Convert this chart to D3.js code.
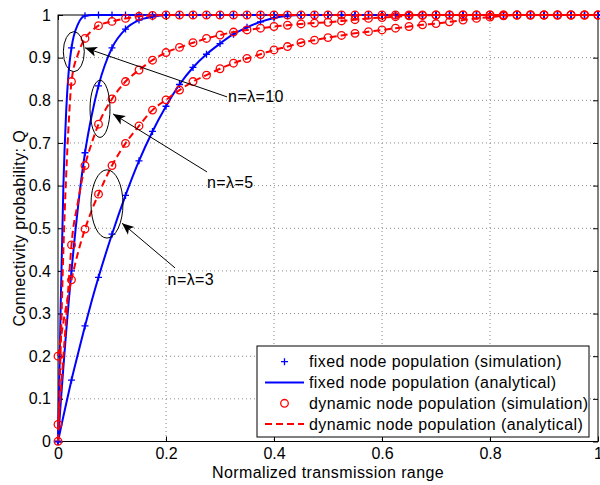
<!DOCTYPE html>
<html>
<head>
<meta charset="utf-8">
<script src="https://cdn.jsdelivr.net/npm/d3@7"></script>
<style>
  body { margin: 0; background: #fff; }
  text { font-family: "Liberation Sans", Arial, Helvetica, sans-serif; }
  .wide { letter-spacing: 0.4px; }
</style>
</head>
<body>
<svg id="chart" width="600" height="485"></svg>
<script>
// ----- data -----
// simulation samples, every 0.025 of the normalized range
const xSim = [0, 0.025, 0.05, 0.075, 0.1, 0.125, 0.15, 0.175, 0.2, 0.225, 0.25, 0.275, 0.3, 0.325,
  0.35, 0.375, 0.4, 0.425, 0.45, 0.475, 0.5, 0.525, 0.55, 0.575, 0.6, 0.625, 0.65, 0.675, 0.7,
  0.725, 0.75, 0.775, 0.8, 0.825, 0.85, 0.875, 0.9, 0.925, 0.95, 0.975, 1];

// fixed node population, n = 3, 5, 10
const fixed3 = [0, 0.144, 0.271, 0.385, 0.486, 0.577, 0.658, 0.727, 0.786, 0.837, 0.877, 0.908, 0.933,
  0.955, 0.971, 0.984, 0.993, 0.998, 1, 1, 1, 1, 1, 1, 1, 1, 1, 1, 1, 1, 1, 1, 1, 1, 1, 1, 1, 1, 1, 1, 1];
const fixed5 = [0, 0.40, 0.677, 0.834, 0.923, 0.967, 0.988, 0.996, 1, 1, 1, 1, 1, 1, 1, 1, 1, 1, 1, 1,
  1, 1, 1, 1, 1, 1, 1, 1, 1, 1, 1, 1, 1, 1, 1, 1, 1, 1, 1, 1, 1];
const fixed10 = [0, 0.923, 0.998, 1, 1, 1, 1, 1, 1, 1, 1, 1, 1, 1, 1, 1, 1, 1, 1, 1, 1, 1, 1, 1, 1,
  1, 1, 1, 1, 1, 1, 1, 1, 1, 1, 1, 1, 1, 1, 1, 1];

// dynamic node population, lambda = 3, 5, 10
const dyn3 = [0.2, 0.379, 0.498, 0.58, 0.647, 0.699, 0.74, 0.777, 0.801, 0.824, 0.844, 0.859, 0.874,
  0.887, 0.898, 0.908, 0.918, 0.926, 0.935, 0.941, 0.947, 0.952, 0.957, 0.961, 0.965, 0.969, 0.973,
  0.977, 0.98, 0.984, 0.988, 0.992, 0.995, 0.998, 1, 1, 1, 1, 1, 1, 1];
const dyn5 = [0.04, 0.461, 0.647, 0.744, 0.803, 0.844, 0.871, 0.894, 0.912, 0.924, 0.935, 0.945, 0.953,
  0.96, 0.965, 0.969, 0.973, 0.976, 0.979, 0.981, 0.983, 0.986, 0.989, 0.992, 0.994, 0.996, 0.998,
  0.999, 1, 1, 1, 1, 1, 1, 1, 1, 1, 1, 1, 1, 1];
const dyn10 = [0.0005, 0.844, 0.945, 0.975, 0.985, 0.992, 0.997, 0.999, 1, 1, 1, 1, 1, 1, 1, 1, 1, 1,
  1, 1, 1, 1, 1, 1, 1, 1, 1, 1, 1, 1, 1, 1, 1, 1, 1, 1, 1, 1, 1, 1, 1];

// analytical curves: same as the samples plus extra points on the steep start
const xHead = [0.0025, 0.005, 0.01, 0.015, 0.02, 0.0375, 0.0625];
const fixed3Head = [0.015, 0.03, 0.059, 0.088, 0.116, 0.208, 0.33];
const fixed5Head = [0.045, 0.09, 0.175, 0.255, 0.33, 0.555, 0.765];
const fixed10Head = [0.15, 0.32, 0.6, 0.77, 0.87, 0.98, 1];
const dyn3Head = [0.22, 0.24, 0.28, 0.316, 0.349, 0.445, 0.542];
const dyn5Head = [0.075, 0.115, 0.2, 0.285, 0.375, 0.565, 0.70];
const dyn10Head = [0.1, 0.22, 0.45, 0.62, 0.75, 0.91, 0.963];

const xTicks = [0, 0.2, 0.4, 0.6, 0.8, 1];
const xTickLabels = ["0", "0.2", "0.4", "0.6", "0.8", "1"];
const yTicks = [0, 0.1, 0.2, 0.3, 0.4, 0.5, 0.6, 0.7, 0.8, 0.9, 1];
const yTickLabels = ["0", "0.1", "0.2", "0.3", "0.4", "0.5", "0.6", "0.7", "0.8", "0.9", "1"];

const legendLabels = [
  "fixed node population (simulation)",
  "fixed node population (analytical)",
  "dynamic node population (simulation)",
  "dynamic node population (analytical)"
];

// annotation ellipses (data units) and their labels
const groups = [
  { label: "n=\u03bb=10", cx: 0.0293, cy: 0.914, rx: 0.0194, ry: 0.047,
    from: [0.313, 0.808], to: [0.05, 0.923], at: [0.315, 0.795] },
  { label: "n=\u03bb=5", cx: 0.0778, cy: 0.780, rx: 0.0185, ry: 0.067,
    from: [0.276, 0.632], to: [0.102, 0.768], at: [0.276, 0.594] },
  { label: "n=\u03bb=3", cx: 0.0907, cy: 0.557, rx: 0.0296, ry: 0.080,
    from: [0.2167, 0.407], to: [0.1185, 0.512], at: [0.203, 0.367] }
];

// ----- layout -----
const W = 600, H = 485;
const margin = { top: 15, right: 2, bottom: 43.5, left: 58 };
const width = W - margin.left - margin.right;
const height = H - margin.top - margin.bottom;
const BLUE = "#0000ff", RED = "#ff0000";
const FONT = 16;

const svg = d3.select("#chart");
svg.append("rect").attr("width", W).attr("height", H).attr("fill", "#fff");
const g = svg.append("g").attr("transform", `translate(${margin.left},${margin.top})`);

const x = d3.scaleLinear().domain([0, 1]).range([0, width]);
const y = d3.scaleLinear().domain([0, 1]).range([height, 0]);

// dotted grid
g.append("g").selectAll("line").data(xTicks.slice(1, -1)).join("line")
  .attr("x1", d => x(d)).attr("x2", d => x(d)).attr("y1", 0).attr("y2", height)
  .attr("stroke", "#888").attr("stroke-width", 1).attr("stroke-dasharray", "1,3");
g.append("g").selectAll("line").data(yTicks.slice(1, -1)).join("line")
  .attr("y1", d => y(d)).attr("y2", d => y(d)).attr("x1", 0).attr("x2", width)
  .attr("stroke", "#888").attr("stroke-width", 1).attr("stroke-dasharray", "1,3");

// axes: inward ticks on all four sides
function styleAxis(sel) {
  sel.select(".domain").remove();
  sel.selectAll(".tick line").attr("stroke", "#000");
  sel.selectAll("text").attr("font-size", FONT).attr("fill", "#000").style("font-family", null);
}
g.append("g").attr("transform", `translate(0,${height})`)
  .call(d3.axisBottom(x).tickValues(xTicks).tickSize(-5).tickSizeOuter(0).tickPadding(6)
    .tickFormat((d, i) => xTickLabels[i]))
  .call(styleAxis);
g.append("g")
  .call(d3.axisTop(x).tickValues(xTicks).tickSize(-5).tickSizeOuter(0).tickFormat(""))
  .call(styleAxis);
g.append("g")
  .call(d3.axisLeft(y).tickValues(yTicks).tickSize(-5).tickSizeOuter(0).tickPadding(7)
    .tickFormat((d, i) => yTickLabels[i]))
  .call(styleAxis);
g.append("g").attr("transform", `translate(${width},0)`)
  .call(d3.axisRight(y).tickValues(yTicks).tickSize(-5).tickSizeOuter(0).tickFormat(""))
  .call(styleAxis);
g.append("rect").attr("width", width).attr("height", height)
  .attr("fill", "none").attr("stroke", "#000").attr("stroke-width", 1);

// ----- series -----
const simPairs = ys => xSim.map((v, i) => [v, ys[i]]);
const linePairs = (ys, head) => simPairs(ys).concat(xHead.map((v, i) => [v, head[i]]))
  .sort((a, b) => a[0] - b[0]);
const line = d3.line().x(d => x(d[0])).y(d => y(d[1])).curve(d3.curveMonotoneX);

const fixedSeries = [[fixed3, fixed3Head], [fixed5, fixed5Head], [fixed10, fixed10Head]];
const dynSeries = [[dyn3, dyn3Head], [dyn5, dyn5Head], [dyn10, dyn10Head]];
const plusPath = "M-3.5,0H3.5M0,-3.5V3.5";

fixedSeries.forEach(([ys]) => {
  g.append("g").selectAll("path").data(simPairs(ys)).join("path")
    .attr("d", plusPath).attr("transform", d => `translate(${x(d[0])},${y(d[1])})`)
    .attr("stroke", BLUE).attr("stroke-width", 1.3).attr("fill", "none");
});
fixedSeries.forEach(([ys, head]) => {
  g.append("path").datum(linePairs(ys, head)).attr("d", line)
    .attr("fill", "none").attr("stroke", BLUE).attr("stroke-width", 2);
});
dynSeries.forEach(([ys]) => {
  g.append("g").selectAll("circle").data(simPairs(ys)).join("circle")
    .attr("cx", d => x(d[0])).attr("cy", d => y(d[1])).attr("r", 3.8)
    .attr("stroke", RED).attr("stroke-width", 1.3).attr("fill", "none");
});
dynSeries.forEach(([ys, head]) => {
  g.append("path").datum(linePairs(ys, head)).attr("d", line)
    .attr("fill", "none").attr("stroke", RED).attr("stroke-width", 2)
    .attr("stroke-dasharray", "7,4");
});

// ----- annotations -----
groups.forEach(a => {
  g.append("ellipse")
    .attr("cx", x(a.cx)).attr("cy", y(a.cy))
    .attr("rx", x(a.rx) - x(0)).attr("ry", y(0) - y(a.ry))
    .attr("fill", "none").attr("stroke", "#000").attr("stroke-width", 1);
  const x1 = x(a.from[0]), y1 = y(a.from[1]), x2 = x(a.to[0]), y2 = y(a.to[1]);
  const ang = Math.atan2(y2 - y1, x2 - x1) * 180 / Math.PI;
  g.append("line").attr("x1", x1).attr("y1", y1).attr("x2", x2).attr("y2", y2)
    .attr("stroke", "#000").attr("stroke-width", 1);
  g.append("path").attr("d", "M0,0L-12,-5L-9,0L-12,5Z")
    .attr("transform", `translate(${x2},${y2}) rotate(${ang})`).attr("fill", "#000");
  g.append("text").attr("class", "wide").attr("x", x(a.at[0])).attr("y", y(a.at[1]))
    .attr("font-size", FONT).text(a.label);
});

// ----- axis labels -----
svg.append("text").attr("class", "wide").attr("x", margin.left + width / 2).attr("y", 478)
  .attr("text-anchor", "middle").attr("font-size", FONT).text("Normalized transmission range");
svg.append("text").attr("class", "wide")
  .attr("transform", `translate(25,${margin.top + height / 2}) rotate(-90)`)
  .attr("text-anchor", "middle").attr("font-size", FONT).text("Connectivity probability: Q");

// ----- legend -----
const leg = svg.append("g").attr("transform", "translate(257,346)");
leg.append("rect").attr("width", 332).attr("height", 91)
  .attr("fill", "#fff").attr("stroke", "#000").attr("stroke-width", 1);
legendLabels.forEach((lab, i) => {
  const row = leg.append("g").attr("transform", `translate(0,${15.7 + i * 20.8})`);
  if (i === 0) {
    row.append("path").attr("d", plusPath).attr("transform", "translate(27.5,0)")
      .attr("stroke", BLUE).attr("stroke-width", 1.3).attr("fill", "none");
  } else if (i === 1) {
    row.append("line").attr("x1", 8).attr("x2", 47).attr("stroke", BLUE).attr("stroke-width", 2);
  } else if (i === 2) {
    row.append("circle").attr("cx", 27.5).attr("r", 3.8)
      .attr("stroke", RED).attr("stroke-width", 1.3).attr("fill", "none");
  } else {
    row.append("line").attr("x1", 8).attr("x2", 47).attr("stroke", RED).attr("stroke-width", 2)
      .attr("stroke-dasharray", "7,4");
  }
  row.append("text").attr("class", "wide").attr("x", 52).attr("dy", "0.35em")
    .attr("font-size", FONT).text(lab);
});
</script>
</body>
</html>
